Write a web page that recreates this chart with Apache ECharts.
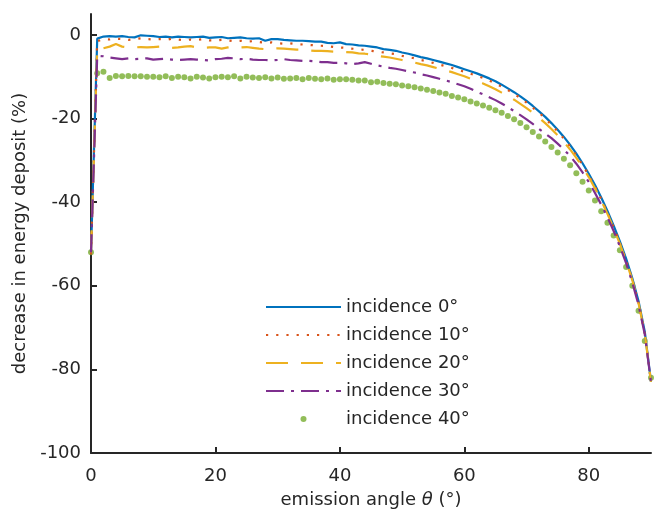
<!DOCTYPE html>
<html>
<head>
<meta charset="utf-8">
<script src="https://cdn.jsdelivr.net/npm/echarts@6/dist/echarts.min.js"></script>
<style>
html,body{margin:0;padding:0;background:#fff;}
#chart{width:657px;height:515px;}
</style>
</head>
<body>
<div id="chart"></div>
<script>
// emission angle theta (degrees)
const angles = [0,1,2,3,4,5,6,7,8,9,10,11,12,13,14,15,16,17,18,19,20,21,22,23,24,25,26,27,28,29,30,
31,32,33,34,35,36,37,38,39,40,41,42,43,44,45,46,47,48,49,50,51,52,53,54,55,56,57,58,59,60,
61,62,63,64,65,66,67,68,69,70,71,72,73,74,75,76,77,78,79,80,81,82,83,84,85,86,87,88,89,90];

const inc0 = [-52,-0.9,-0.4,-0.3,-0.4,-0.3,-0.5,-0.6,-0.1,-0.2,-0.3,-0.5,-0.4,-0.6,-0.4,-0.5,-0.6,-0.5,-0.4,-0.7,-0.6,
-0.5,-0.8,-0.7,-0.6,-0.8,-0.9,-0.8,-1.4,-1.0,-1.0,-1.2,-1.3,-1.4,-1.4,-1.5,-1.6,-1.6,-1.9,-2.0,-1.8,
-2.2,-2.3,-2.5,-2.6,-2.8,-3.0,-3.4,-3.6,-3.8,-4.2,-4.5,-4.9,-5.3,-5.6,-6.0,-6.4,-6.8,-7.2,-7.7,-8.2,
-8.7,-9.2,-9.8,-10.4,-11.1,-11.9,-12.8,-13.7,-14.7,-15.8,-17.0,-18.3,-19.6,-21.1,-22.7,-24.4,-26.3,-28.4,-30.7,-33.2,
-35.9,-38.9,-42.1,-45.6,-49.4,-53.5,-58.2,-63.7,-71.0,-83.0];

const inc10 = [-52.5,-1.5,-1.0,-1.1,-0.9,-1.0,-1.2,-1.0,-0.8,-1.0,-1.1,-1.0,-1.2,-0.9,-1.1,-1.3,-1.1,-1.2,-1.0,-1.3,-1.3,
-1.2,-1.3,-1.5,-1.4,-1.6,-1.5,-1.7,-1.9,-1.8,-2.0,-2.1,-2.0,-2.2,-2.3,-2.4,-2.5,-2.6,-2.7,-2.9,-3.0,
-3.1,-3.3,-3.4,-3.6,-3.8,-4.0,-4.2,-4.4,-4.6,-5.0,-5.3,-5.6,-6.0,-6.3,-6.7,-7.1,-7.5,-7.9,-8.4,-8.8,
-9.3,-9.8,-10.3,-10.9,-11.6,-12.4,-13.2,-14.1,-15.1,-16.2,-17.4,-18.6,-20.0,-21.5,-23.1,-24.8,-26.7,-28.8,-31.1,-33.6,
-36.3,-39.3,-42.5,-46.0,-49.8,-54.0,-58.6,-64.1,-71.4,-83.0];

const inc20 = [-52,-3.3,-3.2,-2.8,-2.2,-2.8,-3.0,-3.0,-2.9,-3.0,-2.9,-2.8,-3.0,-3.1,-3.0,-2.8,-2.7,-3.0,-3.1,-3.0,-3.0,
-3.3,-3.0,-2.8,-3.0,-2.9,-3.1,-3.3,-3.4,-3.3,-3.2,-3.3,-3.4,-3.5,-3.5,-3.7,-3.8,-3.8,-3.9,-4.0,-4.0,
-4.1,-4.2,-4.4,-4.5,-4.7,-5.0,-5.2,-5.4,-5.7,-6.0,-6.3,-6.6,-7.0,-7.3,-7.7,-8.1,-8.5,-8.9,-9.4,-9.9,
-10.5,-11.0,-11.6,-12.3,-13.0,-13.8,-14.6,-15.5,-16.5,-17.5,-18.6,-19.8,-21.1,-22.5,-24.0,-25.6,-27.4,-29.4,-31.6,-34.0,
-36.7,-39.6,-42.8,-46.2,-50.0,-54.1,-58.7,-64.2,-71.4,-83.0];

const inc30 = [-52,-5.0,-5.1,-5.4,-5.6,-5.8,-5.6,-5.8,-5.7,-5.6,-5.9,-5.8,-5.7,-5.9,-6.0,-5.9,-5.8,-5.9,-6.0,-6.1,-5.8,
-5.7,-5.5,-5.6,-5.8,-5.7,-5.9,-6.0,-6.0,-6.1,-6.0,-5.8,-6.0,-6.1,-6.2,-6.2,-6.3,-6.5,-6.5,-6.7,-6.7,
-6.8,-7.0,-6.8,-6.5,-6.9,-7.3,-7.6,-7.9,-8.1,-8.4,-8.7,-9.0,-9.4,-9.7,-10.1,-10.5,-10.9,-11.3,-11.8,-12.3,
-12.9,-13.6,-14.2,-14.9,-15.6,-16.4,-17.3,-18.2,-19.2,-20.2,-21.3,-22.5,-23.6,-24.7,-26.0,-27.4,-29.0,-30.8,-32.9,-35.2,
-37.8,-40.6,-43.6,-46.9,-50.6,-54.6,-59.2,-64.6,-71.6,-83.0];

const inc40 = [-52,-9.2,-8.8,-10.3,-9.8,-9.9,-9.8,-9.9,-9.9,-10.0,-10.0,-10.1,-9.9,-10.3,-10.0,-10.1,-10.4,-10.0,-10.2,-10.4,-10.1,
-10.0,-10.1,-9.9,-10.4,-10.0,-10.2,-10.3,-10.1,-10.4,-10.2,-10.5,-10.4,-10.3,-10.6,-10.3,-10.5,-10.6,-10.4,-10.7,-10.6,
-10.6,-10.7,-10.9,-10.9,-11.3,-11.2,-11.5,-11.7,-11.8,-12.1,-12.3,-12.5,-12.8,-13.1,-13.4,-13.8,-14.1,-14.6,-15.0,-15.4,
-15.9,-16.4,-16.9,-17.4,-18.0,-18.6,-19.4,-20.2,-21.1,-22.1,-23.2,-24.3,-25.5,-26.8,-28.1,-29.6,-31.2,-33.1,-35.1,-37.2,
-39.6,-42.2,-44.9,-48.0,-51.5,-55.5,-60.0,-66.0,-73.2,-82.0];

const seriesNames = ['incidence 0°','incidence 10°','incidence 20°','incidence 30°','incidence 40°'];
const xTicks = [0,20,40,60,80];
const yTicks = [-100,-80,-60,-40,-20,0];

const pairs = arr => angles.map((a,i)=>[a,arr[i]]);
const ink = '#262626';
const font = 'DejaVu Sans';

const chart = echarts.init(document.getElementById('chart'), null, {renderer:'canvas'});
chart.setOption({
  animation:false,
  backgroundColor:'#fff',
  textStyle:{fontFamily:font,color:ink},
  grid:{left:91,right:6,top:14,bottom:62,containLabel:false},
  xAxis:{
    type:'value',min:0,max:90,interval:20,
    name:'emission angle {i|θ} (°)',nameLocation:'middle',nameGap:38,
    nameTextStyle:{fontFamily:font,fontSize:18,color:ink,
      rich:{i:{fontFamily:font,fontSize:18,fontStyle:'italic',color:ink}}},
    axisLine:{show:true,onZero:false,lineStyle:{color:ink,width:2}},
    axisTick:{show:true,inside:true,length:6,lineStyle:{color:ink,width:2},customValues:xTicks},
    axisLabel:{fontFamily:font,fontSize:18,color:ink,margin:14,customValues:xTicks},
    splitLine:{show:false}
  },
  yAxis:{
    type:'value',min:-100,max:5,interval:20,
    name:'decrease in energy deposit (%)',nameLocation:'middle',nameGap:58,
    nameTextStyle:{fontFamily:font,fontSize:18,color:ink},
    axisLine:{show:true,onZero:false,lineStyle:{color:ink,width:2}},
    axisTick:{show:true,inside:true,length:6,lineStyle:{color:ink,width:2},customValues:yTicks},
    axisLabel:{fontFamily:font,fontSize:18,color:ink,margin:10,customValues:yTicks},
    splitLine:{show:false}
  },
  legend:{
    orient:'vertical',left:265,top:297,padding:0,
    itemWidth:75,itemHeight:6,itemGap:8,
    textStyle:{fontFamily:font,fontSize:18,color:ink,lineHeight:20},
    data:[
      {name:seriesNames[0],itemStyle:{opacity:0}},
      {name:seriesNames[1],itemStyle:{opacity:0}},
      {name:seriesNames[2],itemStyle:{opacity:0}},
      {name:seriesNames[3],itemStyle:{opacity:0}},
      {name:seriesNames[4]}
    ]
  },
  series:[
    {name:seriesNames[0],type:'line',data:pairs(inc0),symbol:'none',
      lineStyle:{color:'#0072BD',width:2.2},itemStyle:{color:'#0072BD'}},
    {name:seriesNames[1],type:'line',data:pairs(inc10),symbol:'none',
      lineStyle:{color:'#D95319',width:2.2,type:[2.2,8]},itemStyle:{color:'#D95319'}},
    {name:seriesNames[2],type:'line',data:pairs(inc20),symbol:'none',
      lineStyle:{color:'#EDB120',width:2.2,type:[22,13]},itemStyle:{color:'#EDB120'}},
    {name:seriesNames[3],type:'line',data:pairs(inc30),symbol:'none',
      lineStyle:{color:'#7E2F8E',width:2.2,type:[18,7,3,7]},itemStyle:{color:'#7E2F8E'}},
    {name:seriesNames[4],type:'scatter',data:pairs(inc40),symbol:'circle',symbolSize:6,
      itemStyle:{color:'#77AC30'}}
  ]
});
</script>
</body>
</html>
